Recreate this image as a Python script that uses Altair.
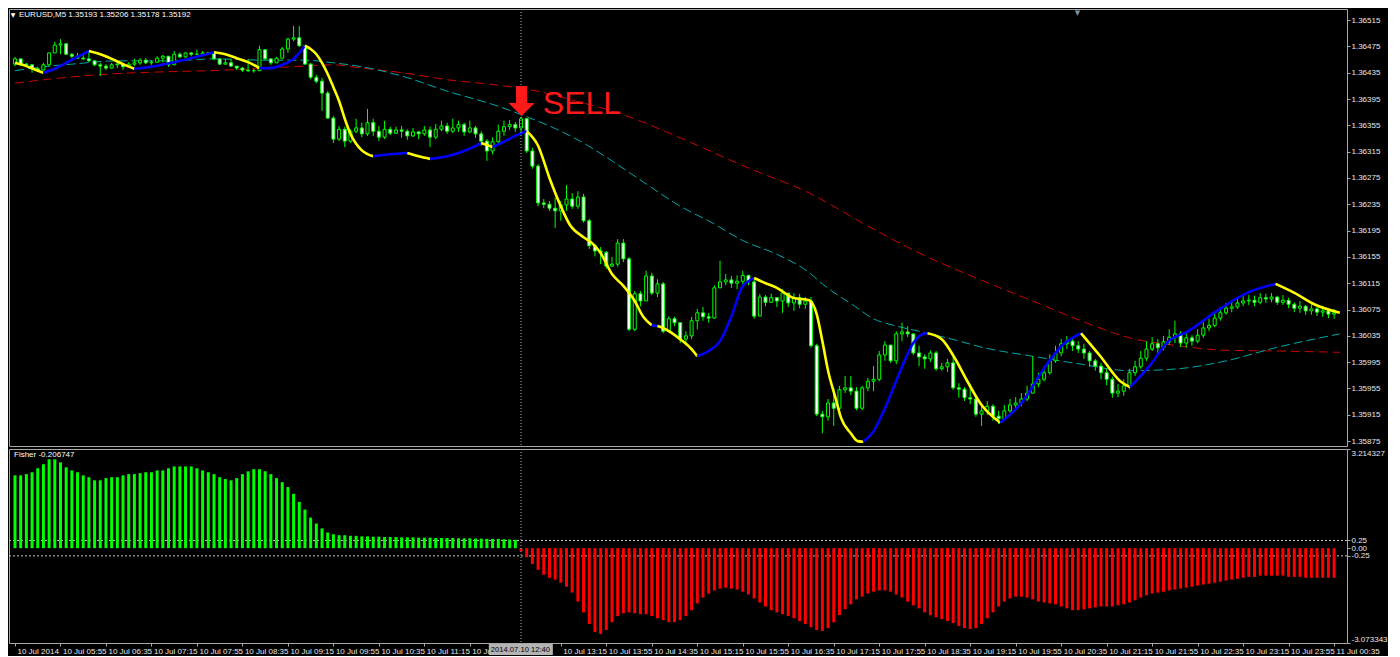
import altair as alt
import pandas as pd

# ---------------- data (prices in points, 1 point = 0.00001) ----------------
OPEN0 = 136448
CLOSE = [
    136456,136448,136447,136441,136439,136447,136465,136477,136479,136463,
    136460,136457,136456,136453,136447,136445,136442,136447,136448,136444,
    136448,136450,136454,136450,136451,136457,136460,136447,136463,136459,
    136465,136463,136463,136465,136465,136456,136448,136450,136445,136442,
    136439,136438,136438,136470,136456,136450,136457,136471,136486,136488,
    136476,136448,136428,136422,136404,136366,
    136334,136349,136331,136346,136351,136342,136359,136346,136337,136349,
    136343,136348,136346,136339,136345,136342,136348,136337,136349,136354,
    136346,136351,136356,136345,136351,136342,136331,136316,136330,136346,
    136353,136356,136351,
    136365,136316,136293,136237,136235,136229,136225,136234,136243,136232,
    136246,136210,136172,136164,136162,136141,136144,136176,136152,136045,
    136099,136088,136126,136100,136114,136042,136061,136055,136030,136035,
    136058,136070,136064,136062,136108,136117,136120,136115,136118,136127,
    136117,136065,136094,136086,136093,136088,136100,136085,
    136093,136083,136088,136020,135916,135912,135933,135925,135953,135956,
    135951,135925,135956,135966,135969,136006,136021,135997,136038,136041,
    136038,136009,136003,136000,136009,135985,135988,135994,135956,135954,
    135941,135939,135916,135921,
    135928,135913,135909,135921,135930,135933,135939,135948,135962,135969,
    135979,135997,136009,136023,136027,136020,136015,136009,135997,135989,
    135979,135969,135948,135951,135959,135979,135988,136001,136015,136023,
    136017,136026,136033,136038,136024,136032,136027,136036,136047,136051,
    136062,136070,136077,136079,136085,136088,136089,136086,136093,136091,
    136094,136086,136089,136083,136077,136080,136073,136076,136071,136073,
    136068,136070,
]
HIGH = [
    136459,136456,136450,136448,136444,136450,136466,136482,136486,136479,
    136465,136465,136463,136466,136454,136450,136448,136450,136451,136450,
    136451,136456,136457,136457,136454,136460,136462,136460,136468,136466,
    136466,136466,136470,136468,136466,136466,136457,136456,136456,136445,
    136444,136456,136441,136476,136471,136454,136459,136474,136488,136506,
    136506,136474,136450,136432,136427,136407,
    136369,136354,136353,136349,136365,136359,136380,136365,136354,136362,
    136353,136353,136354,136349,136351,136346,136354,136353,136357,136362,
    136359,136365,136362,136359,136362,136354,136346,136334,136337,136356,
    136362,136363,136360,
    136368,136366,136321,136296,136243,136240,136245,136240,136264,136252,
    136255,136251,136213,136175,136170,136164,136155,136182,136182,136155,
    136103,136103,136134,136131,136121,136117,136065,136064,136055,136042,
    136064,136076,136079,136070,136112,136149,136129,136126,136127,136134,
    136124,136121,136099,136097,136099,136094,136106,136094,
    136100,136099,136094,136094,136023,135921,135939,135956,135959,135974,
    135974,135957,135959,135971,135989,136012,136027,136020,136042,136055,
    136050,136038,136020,136007,136013,136012,135994,136000,136003,135963,
    135957,135962,135942,135928,
    135936,135931,135921,135930,135939,135942,135948,135959,136004,135979,
    135989,136007,136020,136030,136035,136032,136027,136023,136012,136000,
    135994,135985,135973,135962,135969,135985,135997,136012,136027,136033,
    136030,136035,136045,136058,136042,136039,136036,136045,136058,136061,
    136070,136079,136085,136088,136093,136097,136097,136096,136100,136099,
    136100,136096,136097,136093,136086,136088,136082,136083,136079,136080,
    136076,136076,
]
LOW = [
    136445,136445,136444,136435,136436,136441,136444,136465,136463,136462,
    136457,136456,136454,136451,136445,136430,136439,136441,136442,136439,
    136445,136445,136447,136448,136447,136453,136451,136444,136456,136457,
    136457,136460,136462,136462,136462,136454,136447,136447,136444,136439,
    136436,136436,136435,136438,136454,136447,136450,136457,136465,136483,
    136474,136447,136425,136419,136377,136365,
    136328,136331,136322,136328,136343,136337,136339,136339,136331,136334,
    136340,136342,136336,136333,136337,136334,136339,136322,136334,136346,
    136342,136343,136345,136339,136343,136336,136324,136301,136311,136328,
    136339,136348,136345,
    136342,136313,136289,136232,136229,136225,136199,136210,136225,136228,
    136228,136207,136167,136156,136144,136137,136140,136140,136147,136042,
    136042,136080,136093,136097,136094,136039,136042,136050,136024,136020,
    136030,136045,136058,136055,136061,136108,136112,136108,136106,136112,
    136112,136061,136065,136080,136085,136079,136070,136079,
    136073,136077,136076,136017,135913,135887,135906,135898,135918,135948,
    135945,135922,135922,135951,135951,135966,135997,135994,135992,136027,
    136033,136006,135989,135985,135995,135982,135982,135980,135953,135941,
    135936,135931,135912,135898,
    135915,135906,135901,135906,135918,135921,135928,135936,135948,135957,
    135966,135976,135994,136004,136015,136012,136009,136000,135988,135982,
    135969,135960,135941,135942,135944,135954,135974,135985,135997,136012,
    136009,136013,136021,136024,136018,136017,136020,136024,136032,136042,
    136048,136058,136067,136071,136076,136080,136082,136080,136083,136085,
    136086,136082,136082,136077,136071,136070,136067,136067,136065,136064,
    136062,136061,
]
FISHER = [
    2.36,2.36,2.40,2.46,2.59,2.72,2.88,2.88,2.78,2.62,
    2.52,2.46,2.36,2.30,2.20,2.20,2.27,2.30,2.30,2.36,
    2.40,2.40,2.43,2.46,2.46,2.52,2.52,2.59,2.65,2.65,
    2.65,2.65,2.59,2.52,
    2.46,2.40,2.30,2.24,2.20,2.27,2.40,2.49,2.56,2.56,
    2.49,2.40,2.27,2.14,1.98,1.76,1.50,1.25,0.99,0.80,
    0.64,0.51,0.45,0.42,0.42,
    0.40,0.40,0.38,0.38,0.37,0.37,0.36,0.36,0.36,0.35,
    0.35,0.35,0.34,0.34,0.34,0.33,0.33,0.33,0.33,0.32,
    0.32,0.32,0.31,0.31,0.30,0.30,0.30,0.29,0.28,0.27,
    -0.10,-0.29,-0.51,-0.70,-0.86,-0.96,-1.02,-1.12,-1.25,-1.44,
    -1.73,-2.08,-2.46,-2.72,-2.78,-2.65,-2.40,-2.20,-2.11,-2.08,
    -2.11,-2.14,-2.14,-2.20,-2.27,-2.33,-2.40,-2.40,-2.33,-2.20,
    -2.01,-1.79,-1.60,-1.47,-1.37,-1.31,-1.28,-1.31,-1.34,-1.41,
    -1.50,-1.63,-1.76,-1.89,-2.01,-2.08,-2.14,-2.20,-2.27,-2.36,
    -2.46,-2.56,-2.65,-2.68,-2.59,-2.40,-2.17,-1.98,-1.82,-1.66,
    -1.57,-1.47,-1.41,-1.37,-1.37,-1.41,-1.50,-1.60,-1.73,-1.85,
    -1.95,-2.08,-2.17,-2.24,-2.30,-2.36,-2.43,-2.52,-2.59,-2.62,
    -2.59,-2.46,-2.27,-2.08,-1.89,-1.73,-1.63,-1.57,-1.57,-1.60,
    -1.66,-1.73,-1.76,-1.79,-1.82,-1.89,-1.95,-2.01,-2.01,-1.98,
    -1.95,-1.92,-1.89,-1.89,-1.89,-1.85,-1.82,-1.76,-1.69,-1.60,
    -1.53,-1.47,-1.44,-1.41,-1.37,-1.34,-1.31,-1.28,-1.25,-1.21,
    -1.18,-1.15,-1.12,-1.09,-1.05,-1.02,-0.99,-0.96,-0.93,-0.93,
    -0.89,-0.89,-0.89,-0.89,-0.89,-0.93,-0.93,-0.93,-0.96,-0.96,
    -0.96,-0.96,-0.96,-0.96,
]
# smoothed trend line: (colour, [(bar, points), ...]) yellow = falling, blue = rising
SMOOTH = [
    ("#ffff00", [(0,136450),(2,136445),(4,136438),(5,136435)]),
    ("#0000ff", [(5,136435),(7,136441),(9,136450),(11,136459),(13,136468)]),
    ("#ffff00", [(13,136468),(15,136463),(17,136456),(19,136448),(21,136441)]),
    ("#0000ff", [(21,136441),(24,136444),(28,136451),(31,136457),(35,136466)]),
    ("#ffff00", [(35,136466),(37,136463),(39,136457),(41,136451),(43,136442)]),
    ("#0000ff", [(43,136442),(45,136442),(47,136447),(49,136456),(50,136465),(51,136476)]),
    ("#ffff00", [(51,136476),(52,136471),(53,136463),(54,136450),(55,136433),(56,136413),
                 (57,136392),(58,136365),(59,136342),(60,136327),(61,136317),(63,136308)]),
    ("#0000ff", [(63,136308),(66,136311),(69,136313)]),
    ("#ffff00", [(69,136313),(71,136308),(73,136304)]),
    ("#0000ff", [(73,136304),(76,136308),(79,136316),(82,136328)]),
    ("#ffff00", [(82,136328),(84,136322)]),
    ("#0000ff", [(84,136322),(86,136330),(88,136339),(90,136346)]),
    ("#ffff00", [(90,136346),(92,136324),(94,136275),(96,136232),(97.5,136205),(100,136185),
                 (101.5,136176),(103,136161),(105,136129),(107,136111),(109,136088),
                 (110.5,136064),(112,136051)]),
    ("#0000ff", [(112,136051),(113,136050)]),
    ("#ffff00", [(113,136050),(114,136047),(117,136030),(119,136015),(120,136004)]),
    ("#0000ff", [(120,136004),(122,136012),(124,136027),(126,136065),(128,136111),
                 (129,136118),(130,136123)]),
    ("#ffff00", [(130,136123),(132,136115),(134,136108),(136.8,136093),(139.7,136089),
                 (141,136068),(142,136027),(143,135982),(144.3,135941),(145.3,135910),
                 (147,135887),(148.2,135875),(149.2,135874)]),
    ("#0000ff", [(149.2,135874),(151,135890),(152.8,135921),(154.5,135956),(156.2,135992),
                 (157.9,136023),(159.7,136038),(160.5,136039)]),
    ("#ffff00", [(160.5,136039),(163,136030),(165.3,136001),(167.5,135966),(169.9,135931),
                 (173.3,135903)]),
    ("#0000ff", [(173.3,135903),(177.3,135936),(180.7,135982),(184.1,136020),(187.5,136039)]),
    ("#ffff00", [(187.5,136039),(190.9,136004),(194.4,135966),(196.1,135957)]),
    ("#0000ff", [(196.1,135957),(199.5,135989),(202.9,136027),(206.3,136042),(211.4,136073),
                 (216.6,136100),(221.7,136114)]),
    ("#ffff00", [(221.7,136114),(225.1,136100),(228.5,136083),(233,136070)]),
]
CYAN_MA = [(0,136438),(6,136445),(10,136448),(18,136453),(27,136453),(35,136456),(44,136454),
           (51,136454),(56,136450),(61,136444),(68,136430),(76,136407),(85,136384),(90,136368),
           (94,136354),(100,136328),(105.5,136298),(111,136266),(117,136232),(122.6,136207),
           (128.2,136179),(134,136159),(139.7,136131),(142,136114),(147.7,136080),(151,136061),
           (155,136050),(159,136042),(164.8,136030),(170.4,136017),(179,136004),(187.5,135992),
           (196,135982),(204.6,135985),(213,135997),(221.7,136017),(233,136038)]
RED_MA = [(0,136419),(8,136427),(16.6,136433),(25,136436),(33.7,136438),(42.2,136441),
          (50.8,136445),(56,136447),(61,136442),(68,136435),(76.4,136424),(85,136416),(90,136410),
          (98.6,136392),(106.7,136372),(117,136336),(128.2,136293),(139.7,136252),(150,136202),
          (159,136161),(170.4,136118),(179,136088),(187.5,136058),(196,136032),(204.6,136020),
          (213,136013),(221.7,136012),(233,136010)]
TIME_LABELS = ["10 Jul 2014", "10 Jul 05:55", "10 Jul 06:35", "10 Jul 07:15", "10 Jul 07:55",
               "10 Jul 08:35", "10 Jul 09:15", "10 Jul 09:55", "10 Jul 10:35", "10 Jul 11:15",
               "10 Jul 11:55", "10 Jul 12:35", "10 Jul 13:15", "10 Jul 13:55", "10 Jul 14:35",
               "10 Jul 15:15", "10 Jul 15:55", "10 Jul 16:35", "10 Jul 17:15", "10 Jul 17:55",
               "10 Jul 18:35", "10 Jul 19:15", "10 Jul 19:55", "10 Jul 20:35", "10 Jul 21:15",
               "10 Jul 21:55", "10 Jul 22:35", "10 Jul 23:15", "10 Jul 23:55", "11 Jul 00:35"]
HIDDEN_LABEL = "10 Jul 12:35"   # covered by the crosshair time box
PRICE_TICKS = [135875, 135915, 135955, 135995, 136035, 136075, 136115, 136155, 136195,
               136235, 136275, 136315, 136355, 136395, 136435, 136475, 136515]
FISHER_MAX, FISHER_MIN = 3.214327, -3.073343
FISHER_TICKS = [FISHER_MAX, 0.25, 0.0, -0.25, FISHER_MIN]
SIGNAL_BAR = 89
TITLE = "EURUSD,M5  1.35193 1.35206 1.35178 1.35192"
FISHER_TITLE = "Fisher -0.206747"
CROSS_LABEL = "2014.07.10 12:40"

assert len(CLOSE) == len(HIGH) == len(LOW) == len(FISHER) == 233

# ---------------- build tables ----------------
FONT = "Liberation Sans"
LIME = "#00ff00"
W, H_TOP, H_BOT = 1338, 437, 194
XS = alt.Scale(domain=[-0.174, 233.39], nice=False, zero=False)
YT = alt.Scale(domain=[1.358676, 1.365318], nice=False, zero=False)
YB = alt.Scale(domain=[FISHER_MIN, FISHER_MAX], nice=False, zero=False)
STEP = W / (233.39 + 0.174)
SIG_X = (SIGNAL_BAR + 0.174) * STEP  # pixel of the signal bar inside the plot

N = len(CLOSE)
opens = [OPEN0] + CLOSE[:-1]
cdf = pd.DataFrame({
    "bar": list(range(N)),
    "open": [v / 1e5 for v in opens],
    "close": [v / 1e5 for v in CLOSE],
    "high": [max(h, o, c) / 1e5 for h, o, c in zip(HIGH, opens, CLOSE)],
    "low": [min(l, o, c) / 1e5 for l, o, c in zip(LOW, opens, CLOSE)],
    "fill": ["#000000" if c > o else "#ffffff" for o, c in zip(opens, CLOSE)],
})

srows = []
for k, (col, pts) in enumerate(SMOOTH):
    for b, p in pts:
        srows.append({"seg": k, "bar": b, "price": p / 1e5, "col": col})
sdf = pd.DataFrame(srows)
cyan_df = pd.DataFrame({"bar": [b for b, _ in CYAN_MA], "price": [p / 1e5 for _, p in CYAN_MA]})
red_df = pd.DataFrame({"bar": [b for b, _ in RED_MA], "price": [p / 1e5 for _, p in RED_MA]})
hdf = pd.DataFrame({"bar": list(range(N)), "val": FISHER,
                    "col": [LIME if v > 0 else "#ff0000" for v in FISHER]})

xq = alt.X("bar:Q", scale=XS, axis=None)

top_axis = alt.Axis(orient="right", values=[v / 1e5 for v in PRICE_TICKS], format=".5f",
                    labelColor="#e8e8e8", labelFont=FONT, labelFontSize=8, tickColor="#a8a8a8",
                    tickSize=3, labelPadding=1, domain=False, grid=False, labelFlush=False,
                    labelOverlap=False, title=None, zindex=0)


def ytop(field):
    return alt.Y(field, scale=YT, axis=top_axis)


red_line = alt.Chart(red_df).mark_line(color="#d00000", strokeWidth=1, strokeDash=[9, 5],
                                       interpolate="monotone").encode(x=xq, y=ytop("price:Q"))
cyan_line = alt.Chart(cyan_df).mark_line(color="#00a8a8", strokeWidth=1, strokeDash=[9, 4],
                                         interpolate="monotone").encode(x=xq, y=ytop("price:Q"))
wicks = alt.Chart(cdf).mark_rule(color=LIME, strokeWidth=1).encode(
    x=xq, y=ytop("low:Q"), y2="high:Q")
bodies = alt.Chart(cdf).mark_bar(size=3, stroke=LIME, strokeWidth=1).encode(
    x=xq, y=ytop("open:Q"), y2="close:Q", fill=alt.Fill("fill:N", scale=None))
smooth = alt.Chart(sdf).mark_line(strokeWidth=2.6, interpolate="monotone").encode(
    x=xq, y=ytop("price:Q"), detail="seg:N",
    color=alt.Color("col:N", scale=None), order="bar:Q")
cross_top = alt.Chart(pd.DataFrame({"bar": [SIGNAL_BAR]})).mark_rule(
    color="#b0b0b0", strokeWidth=1, strokeDash=[1, 2]).encode(
    x=xq, y=alt.value(0), y2=alt.value(H_TOP))
ARROW = "M-0.37,-1 L0.37,-1 L0.37,0.13 L0.87,0.13 L0,1 L-0.87,0.13 L-0.37,0.13 Z"
arrow = alt.Chart(pd.DataFrame({"bar": [SIGNAL_BAR + 0.1], "price": [1.36392]})).mark_point(
    shape=ARROW, size=900, filled=True, color="#ff1a1a", opacity=1).encode(
    x=xq, y=ytop("price:Q"))
sell = alt.Chart(pd.DataFrame({"t": ["SELL"]})).mark_text(
    color="#ff1a1a", font="Liberation Sans Narrow, Arial Narrow, Liberation Sans", fontSize=32,
    align="left", baseline="alphabetic").encode(
    x=alt.value(SIG_X + 23), y=alt.value(105), text="t:N")
title = alt.Chart(pd.DataFrame({"t": [TITLE]})).mark_text(
    color="#ffffff", font=FONT, fontSize=8, align="left", baseline="top").encode(
    x=alt.value(10), y=alt.value(2), text="t:N")
tri = alt.Chart(pd.DataFrame({"t": ["\u25bc"]})).mark_text(
    color="#ffffff", font="DejaVu Sans", fontSize=6, align="center", baseline="top").encode(
    x=alt.value(4), y=alt.value(3), text="t:N")
shift = alt.Chart(pd.DataFrame({"t": ["\u25bc"]})).mark_text(
    color="#8090a0", font="DejaVu Sans", fontSize=7, align="center", baseline="top").encode(
    x=alt.value(186.5 * STEP), y=alt.value(0), text="t:N")

top = alt.layer(red_line, cyan_line, wicks, bodies, smooth, cross_top, arrow, sell, title, tri,
                shift).properties(width=W, height=H_TOP)

# ---------------- bottom panel ----------------
label_js = ("[" + ",".join("'%s'" % ("" if s == HIDDEN_LABEL else s) for s in TIME_LABELS)
            + "][round(datum.value / 8)]")
x_axis = alt.Axis(orient="bottom", values=list(range(0, 8 * len(TIME_LABELS), 8)),
                  labelExpr=label_js, labelAlign="left", labelBaseline="top", labelOffset=2,
                  labelPadding=1, tickSize=3, tickColor="#a8a8a8", labelColor="#e8e8e8",
                  labelFont=FONT, labelFontSize=8, labelFlush=False, labelOverlap=False,
                  labelBound=False, domain=False, grid=False, title=None, zindex=0)
bot_axis = alt.Axis(orient="right", values=FISHER_TICKS,
                    labelExpr="datum.value > 3 ? '3.214327' : datum.value < -3 ? '-3.073343' : "
                              "datum.value > 0.1 ? '0.25' : datum.value < -0.1 ? '-0.25' : '0.00'",
                    labelColor="#e8e8e8", labelFont=FONT, labelFontSize=8, tickColor="#a8a8a8",
                    tickSize=3, labelPadding=1, domain=False, grid=False, labelFlush=True,
                    labelOverlap=False, title=None, zindex=0)
xb = alt.X("bar:Q", scale=XS, axis=x_axis)

levels = alt.Chart(pd.DataFrame({"lv": [0.25, -0.25]})).mark_rule(
    color="#c8c8c8", strokeWidth=1, strokeDash=[2, 2]).encode(
    y=alt.Y("lv:Q", scale=YB, axis=bot_axis), x=alt.value(0), x2=alt.value(W))
hist = alt.Chart(hdf).mark_bar(size=3).encode(
    x=xb, y=alt.Y("val:Q", scale=YB, axis=bot_axis),
    y2=alt.datum(0), color=alt.Color("col:N", scale=None))
cross_bot = alt.Chart(pd.DataFrame({"bar": [SIGNAL_BAR]})).mark_rule(
    color="#b0b0b0", strokeWidth=1, strokeDash=[1, 2]).encode(
    x=xb, y=alt.value(0), y2=alt.value(H_BOT))
fisher_txt = alt.Chart(pd.DataFrame({"t": [FISHER_TITLE]})).mark_text(
    color="#ffffff", font=FONT, fontSize=8, align="left", baseline="middle").encode(
    x=alt.value(5), y=alt.value(6), text="t:N")
cross_box = alt.Chart(pd.DataFrame({"t": [CROSS_LABEL]})).mark_rect(color="#b4b4b4").encode(
    x=alt.value(SIG_X - 31), x2=alt.value(SIG_X + 33), y=alt.value(H_BOT + 1),
    y2=alt.value(H_BOT + 12))
cross_txt = alt.Chart(pd.DataFrame({"t": [CROSS_LABEL]})).mark_text(
    color="#000000", font=FONT, fontSize=7.6, align="left", baseline="middle").encode(
    x=alt.value(SIG_X - 29), y=alt.value(H_BOT + 7), text="t:N")

bottom = alt.layer(levels, hist, cross_bot, fisher_txt, cross_box, cross_txt).properties(
    width=W, height=H_BOT)

chart = alt.vconcat(top, bottom, spacing=3, bounds="flush").properties(
    padding=0,
    background="#000000",
).configure_view(stroke="#a8a8a8", strokeWidth=1).configure_axis(grid=False)

chart.save("out.html", embed_options={"renderer": "svg", "actions": False})
